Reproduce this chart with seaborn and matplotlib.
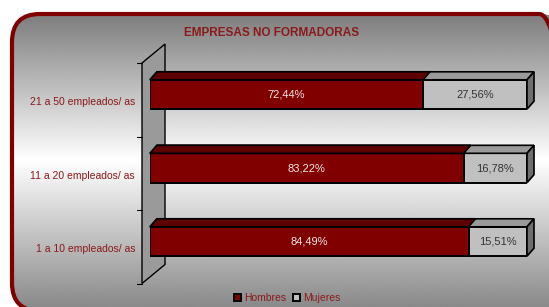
import numpy as np
import pandas as pd
import matplotlib
matplotlib.use("Agg")
import matplotlib.pyplot as plt
import seaborn as sns
from matplotlib.patches import Polygon, FancyBboxPatch
from matplotlib.lines import Line2D
from matplotlib.transforms import IdentityTransform, ScaledTranslation

# data
categories = ["21 a 50 empleados/ as", "11 a 20 empleados/ as", "1 a 10 empleados/ as"]
hombres = [72.44, 83.22, 84.49]
mujeres = [27.56, 16.78, 15.51]
series_names = ["Hombres", "Mujeres"]
title = "EMPRESAS NO FORMADORAS"

RED = "#8b1a1a"
HOM = "#800000"
HOM_TOP = "#5c0000"
MUJ = "#c0c0c0"
MUJ_TOP = "#9a9a9a"
MUJ_SIDE = "#6e6e6e"


def fmt(v):
    return f"{v:.2f}".replace(".", ",") + "%"


sns.set_theme(style="white")
plt.rcParams["font.family"] = ["Liberation Sans", "DejaVu Sans"]

W, H = 549, 307
fig = plt.figure(figsize=(W / 100, H / 100), dpi=100)
fig.patch.set_facecolor("white")

# background panel: rounded frame with vertical grey-white-grey gradient
# (bg axes in pixel units, y measured upwards from the bottom)
bg = fig.add_axes([0, 0, 1, 1], zorder=0)
bg.set_xlim(0, W)
bg.set_ylim(0, H)
bg.axis("off")
rows = H - np.arange(H)  # distance of each image row from bottom, top row first
shade = np.interp(H - rows, [14, 160, H], [0.49, 1.0, 0.54])
im = bg.imshow(np.repeat(shade[:, None], 2, axis=1), cmap="gray", vmin=0, vmax=1,
               extent=(0, W, 0, H), origin="upper", aspect="auto", interpolation="bilinear")
frame = FancyBboxPatch((12, -4), 555, H - 14 + 4, boxstyle="round,pad=0,rounding_size=28",
                       fc="none", ec=HOM, lw=3, clip_on=False)
bg.add_patch(frame)
im.set_clip_path(frame)

# main axes
ax = fig.add_axes([150 / W, (H - 278.25) / H, 377 / W, 220.5 / H], zorder=1)
ax.patch.set_visible(False)

df = pd.DataFrame({"grupo": categories, "Hombres": hombres, "Mujeres": mujeres})
df["total"] = df["Hombres"] + df["Mujeres"]

bar_kw = dict(orient="h", width=0.4, edgecolor="black", linewidth=1.4,
              saturation=1, errorbar=None, ax=ax)
sns.barplot(data=df, x="total", y="grupo", color=MUJ, label=series_names[1], **bar_kw)
sns.barplot(data=df, x="Hombres", y="grupo", color=HOM, label=series_names[0], **bar_kw)
if ax.get_legend() is not None:
    ax.get_legend().remove()

ax.set_xlim(0, 100)
ax.set_ylim(len(categories) - 0.5, -0.5)
ax.set_xticks([])
ax.set_xlabel("")
ax.set_ylabel("")
for s in ax.spines.values():
    s.set_visible(False)

# fake 3D: depth faces on each bar (pixel offsets)
dx, dy = 7, 8
n = len(categories)
total_bars = ax.patches[:n]
hom_bars = ax.patches[n:2 * n]


def face(pts, color, z):
    ax.add_patch(Polygon(pts, closed=True, fc=color, ec="black", lw=1.2,
                         transform=IdentityTransform(), clip_on=False, zorder=z))


for p, col, side in [(b, MUJ_TOP, True) for b in total_bars] + [(b, HOM_TOP, False) for b in hom_bars]:
    x0, y0 = p.get_x(), p.get_y()
    (X0, Ya), (X1, Yb) = ax.transData.transform([(x0, y0), (x0 + p.get_width(), y0 + p.get_height())])
    Ytop, Ybot = max(Ya, Yb), min(Ya, Yb)
    face([(X0, Ytop), (X1, Ytop), (X1 + dx, Ytop + dy), (X0 + dx, Ytop + dy)], col, 3)
    if side:
        face([(X1, Ybot), (X1, Ytop), (X1 + dx, Ytop + dy), (X1 + dx, Ybot + dy)], MUJ_SIDE, 3)

# side wall and category ticks
L = ax.transAxes.transform((0, 0))[0]
bounds = np.arange(n + 1) - 0.5
by = [ax.transData.transform((0, b))[1] - 5.25 for b in bounds]
ax.add_patch(Polygon([(L - 8, by[0]), (L + 15, by[0] + 19), (L + 15, by[-1] + 19), (L - 8, by[-1])],
                     closed=True, fc="#9a9a9a", ec="black", lw=1.0,
                     transform=IdentityTransform(), clip_on=False, zorder=0.5))
for y in by:
    ax.add_line(Line2D([L - 13, L - 8], [y, y], color="black", lw=0.8,
                       transform=IdentityTransform(), clip_on=False))

# value labels
for i in range(n):
    ax.text(hombres[i] / 2, i, fmt(hombres[i]), ha="center", va="center",
            fontsize=8, color="#f0e6e6", zorder=5)
    ax.text(hombres[i] + mujeres[i] / 2, i, fmt(mujeres[i]), ha="center", va="center",
            fontsize=8, color="#333333", zorder=5)

# category labels
ax.set_yticks(range(n))
ax.set_yticklabels(categories, fontsize=7.5, color=RED)
ax.tick_params(axis="y", length=0, pad=10.8)
shift = ScaledTranslation(0, -6.5 / 100, fig.dpi_scale_trans)
for lab in ax.get_yticklabels():
    lab.set_transform(lab.get_transform() + shift)

fig.text(272 / W, 1 - 33 / H, title, ha="center", va="center",
         fontsize=8.5, fontweight="bold", color=RED)

handles, labels = ax.get_legend_handles_labels()
order = [labels.index(s) for s in series_names]
fig.legend([handles[i] for i in order], [labels[i] for i in order], loc="center",
           bbox_to_anchor=(287 / W, 1 - 298 / H), ncol=2, frameon=False, fontsize=7.5,
           handlelength=0.7, handleheight=0.7, handletextpad=0.3, columnspacing=0.6,
           labelcolor=RED)

fig.savefig("out.png", dpi=100)
